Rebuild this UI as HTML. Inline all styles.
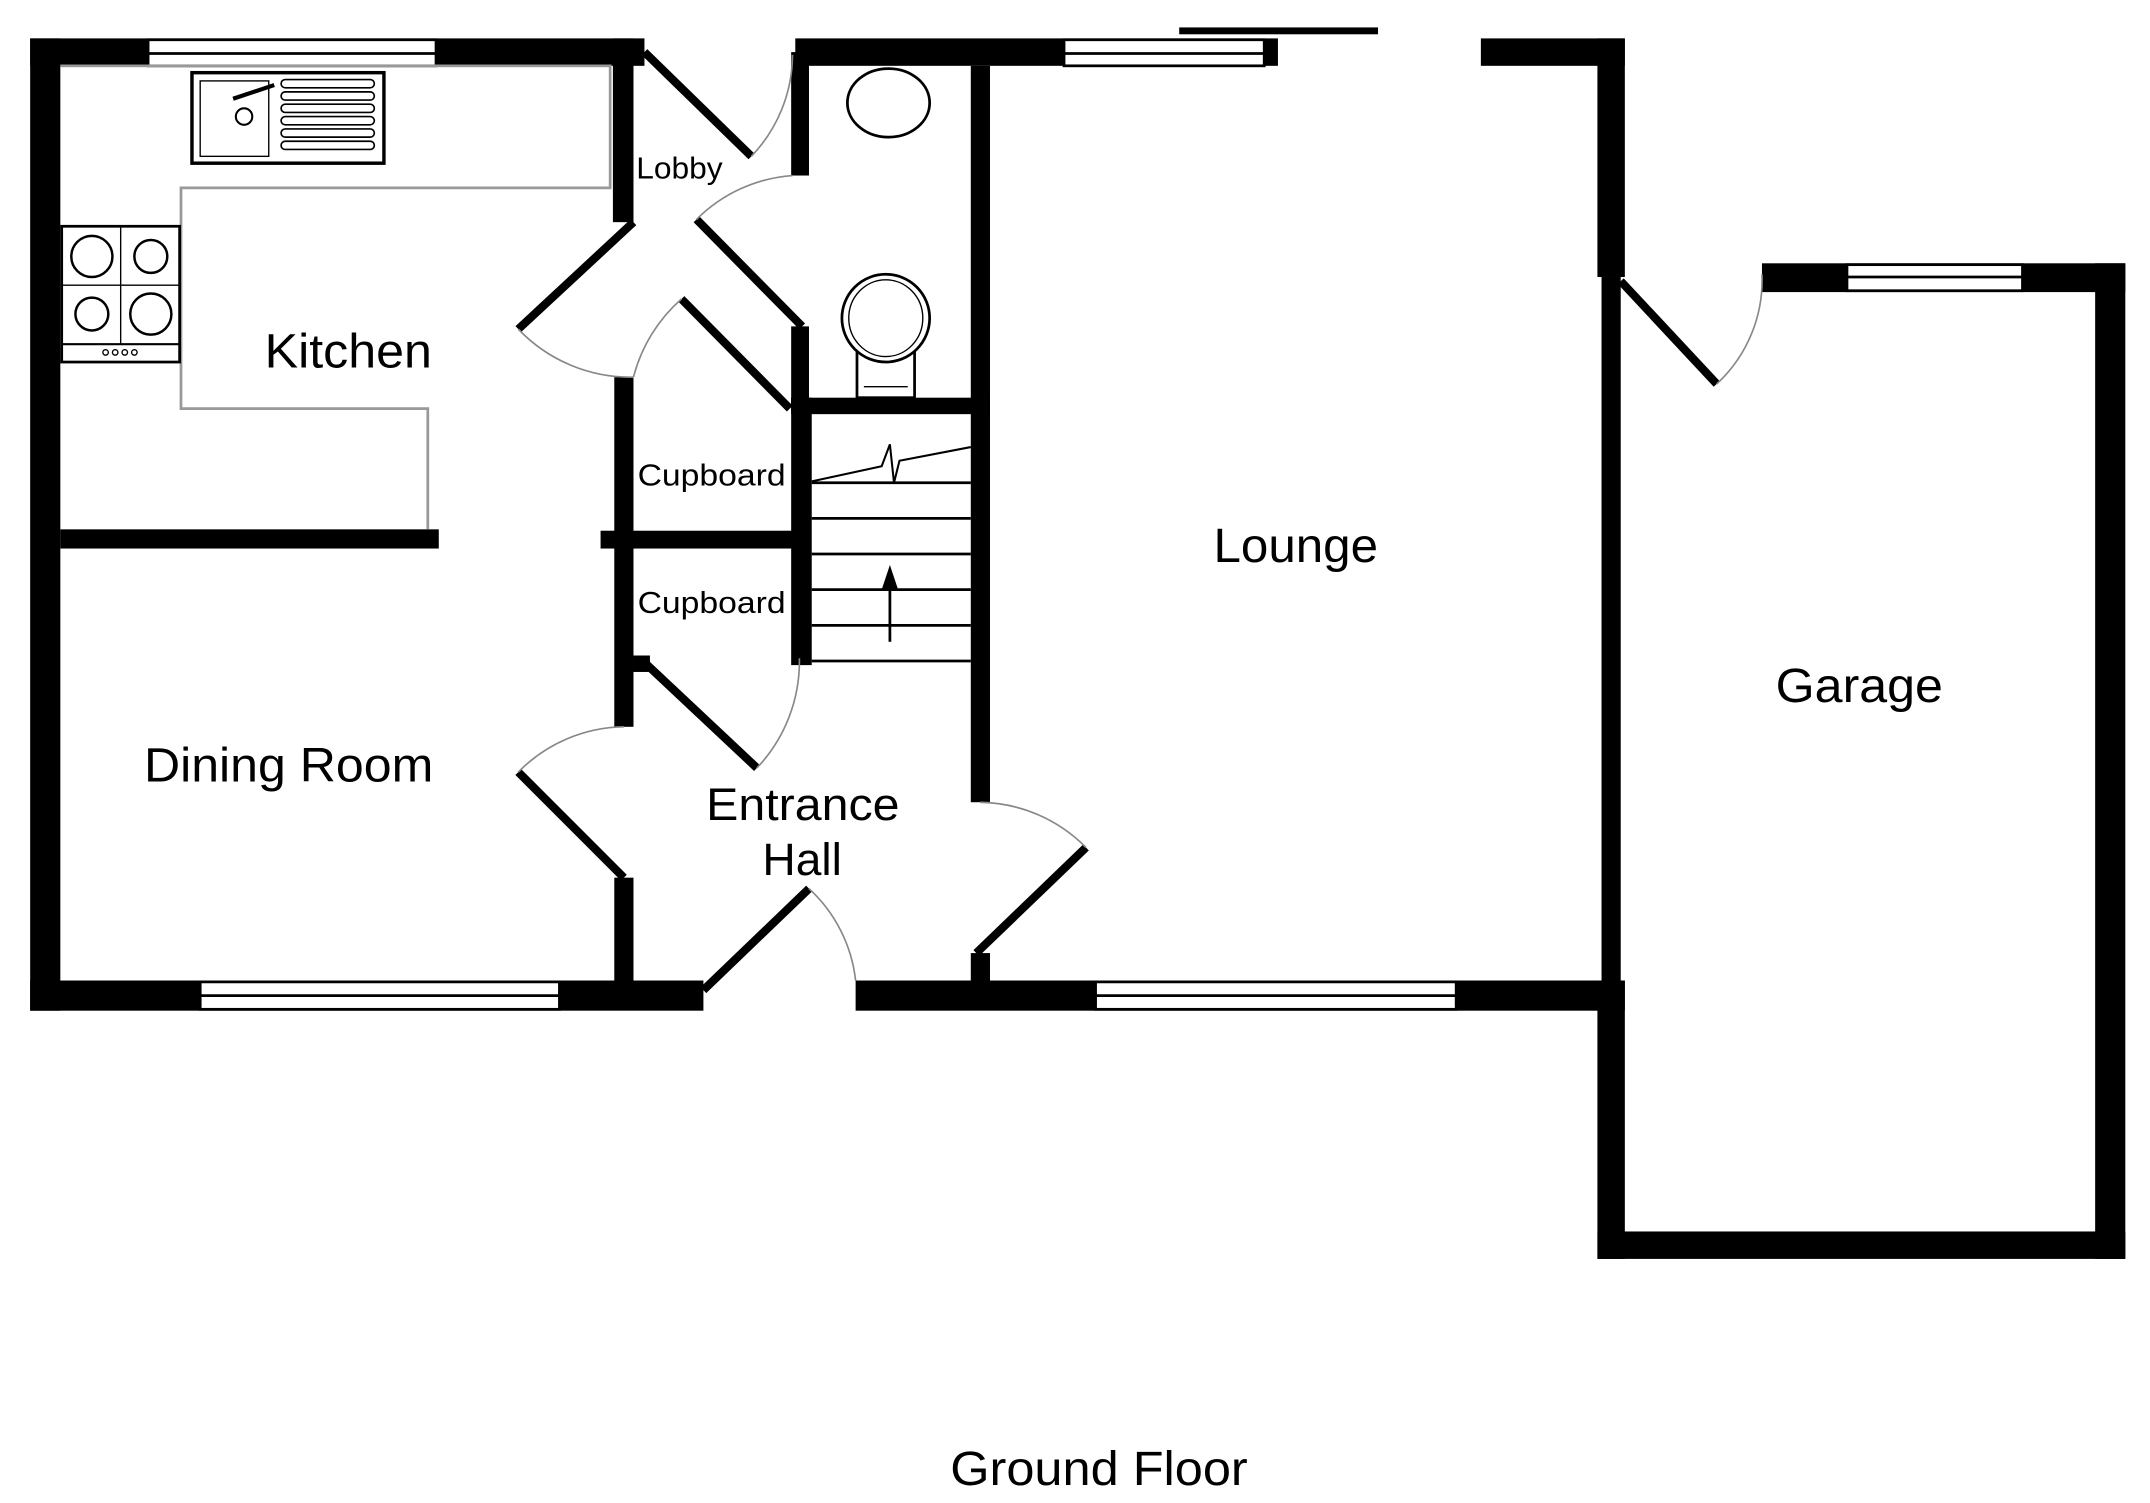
<!DOCTYPE html>
<html><head><meta charset="utf-8"><style>
html,body{margin:0;padding:0;background:#fff;}
svg{display:block;}
text{font-family:"Liberation Sans",sans-serif;fill:#000;}
</style></head><body>
<svg width="2150" height="1503" viewBox="0 0 1568 1096" preserveAspectRatio="none" xmlns="http://www.w3.org/2000/svg">
<rect width="1568" height="1096" fill="#fff"/>
<g fill="#000">
<rect x="22" y="28" width="448" height="20"/>
<rect x="22" y="28" width="22" height="709"/>
<rect x="22" y="715" width="491" height="22"/>
<rect x="44" y="386" width="276" height="14"/>
<rect x="447" y="28" width="15" height="134"/>
<rect x="448" y="275" width="14" height="255"/>
<rect x="448" y="640" width="14" height="77"/>
<rect x="438" y="387" width="152" height="13"/>
<rect x="462" y="478" width="12" height="12"/>
<rect x="580" y="28" width="352" height="20"/>
<rect x="577" y="38" width="13" height="90"/>
<rect x="577" y="238" width="13" height="62"/>
<rect x="577" y="290" width="15" height="195"/>
<rect x="708" y="48" width="14" height="537"/>
<rect x="577" y="290" width="145" height="12"/>
<rect x="860" y="20" width="145" height="5"/>
<rect x="1080" y="28" width="105" height="20"/>
<rect x="1165" y="28" width="20" height="174"/>
<rect x="1168" y="202" width="14" height="515"/>
<rect x="624" y="715" width="561" height="22"/>
<rect x="708" y="695" width="14" height="22"/>
<rect x="1285" y="192" width="265" height="21"/>
<rect x="1528" y="192" width="22" height="726"/>
<rect x="1165" y="898" width="385" height="20"/>
<rect x="1165" y="715" width="20" height="203"/>
</g>
<g fill="#fff" stroke="#000" stroke-width="2">
<rect x="108" y="29" width="210" height="19"/><line x1="108" y1="39" x2="318" y2="39"/>
<rect x="776" y="29" width="146" height="19"/><line x1="776" y1="39" x2="922" y2="39"/>
<rect x="146" y="716" width="262" height="20"/><line x1="146" y1="726" x2="408" y2="726"/>
<rect x="799" y="716" width="263" height="20"/><line x1="799" y1="726" x2="1062" y2="726"/>
<rect x="1347" y="193" width="128" height="19"/><line x1="1347" y1="202" x2="1475" y2="202"/>
</g>
<polyline points="44,48 445,48 445,137 132,137 132,298 312,298 312,386" fill="none" stroke="#999" stroke-width="2"/>
<rect x="140" y="53" width="140" height="66" fill="#fff" stroke="#000" stroke-width="2.5"/>
<rect x="146" y="59" width="50" height="55" fill="none" stroke="#000" stroke-width="1"/>
<circle cx="178" cy="85" r="6" fill="none" stroke="#000" stroke-width="1.5"/>
<line x1="170" y1="72" x2="200" y2="62" stroke="#000" stroke-width="3"/>
<g fill="none" stroke="#000" stroke-width="1.2">
<rect x="205" y="58" width="68" height="6" rx="3"/><rect x="205" y="67" width="68" height="6" rx="3"/><rect x="205" y="76" width="68" height="6" rx="3"/><rect x="205" y="85" width="68" height="6" rx="3"/><rect x="205" y="94" width="68" height="6" rx="3"/><rect x="205" y="103" width="68" height="6" rx="3"/>
</g>
<rect x="45" y="165" width="86" height="99" fill="#fff" stroke="#000" stroke-width="2"/>
<line x1="45" y1="251" x2="131" y2="251" stroke="#000" stroke-width="1.5"/>
<g fill="none" stroke="#000" stroke-width="1.8">
<circle cx="67" cy="187" r="15"/><circle cx="110" cy="187" r="12"/><circle cx="67" cy="229" r="12"/><circle cx="110" cy="229" r="15"/>
<line x1="45" y1="208" x2="131" y2="208" stroke-width="1"/><line x1="88" y1="165" x2="88" y2="251" stroke-width="1"/>
<circle cx="77" cy="257" r="2" stroke-width="1"/><circle cx="84" cy="257" r="2" stroke-width="1"/><circle cx="91" cy="257" r="2" stroke-width="1"/><circle cx="98" cy="257" r="2" stroke-width="1"/>
</g>
<g fill="#fff" stroke="#000" stroke-width="2">
<ellipse cx="648" cy="75" rx="30" ry="25"/>
<rect x="625" y="252" width="42" height="38"/>
<ellipse cx="646" cy="232" rx="32" ry="32"/>
<ellipse cx="646" cy="232" rx="27" ry="28" stroke-width="1"/>
</g>
<line x1="630" y1="282" x2="662" y2="282" stroke="#000" stroke-width="1"/>
<g stroke="#000" stroke-width="2">
<line x1="592" y1="352" x2="708" y2="352"/><line x1="592" y1="378" x2="708" y2="378"/><line x1="592" y1="404" x2="708" y2="404"/><line x1="592" y1="430" x2="708" y2="430"/><line x1="592" y1="456" x2="708" y2="456"/><line x1="592" y1="482" x2="708" y2="482"/>
<line x1="649" y1="468" x2="649" y2="425"/>
</g>
<polyline points="592,351 643,340 649,324 652,352 656,336 708,326" fill="none" stroke="#000" stroke-width="1.5"/>
<polygon points="649,412 643,430 655,430" fill="#000"/>
<g stroke="#000" stroke-width="6" stroke-linecap="butt">
<line x1="470" y1="38" x2="548" y2="114"/>
<line x1="462" y1="162" x2="378" y2="240"/>
<line x1="585" y1="238" x2="508" y2="160"/>
<line x1="576" y1="298" x2="497" y2="218"/>
<line x1="470" y1="483" x2="552" y2="560"/>
<line x1="455" y1="640" x2="378" y2="563"/>
<line x1="513" y1="722" x2="590" y2="648"/>
<line x1="712" y1="695" x2="792" y2="618"/>
<line x1="1182" y1="205" x2="1252" y2="280"/>
</g>
<g fill="none" stroke="#888" stroke-width="1.2">
<path d="M548,114 A108,108 0 0 0 578,40"/>
<path d="M378,240 A113,113 0 0 0 462,275"/>
<path d="M508,160 A110,110 0 0 1 578,128"/>
<path d="M497,218 A113,113 0 0 0 462,275"/>
<path d="M552,560 A113,113 0 0 0 583,480"/>
<path d="M378,563 A110,110 0 0 1 455,530"/>
<path d="M590,648 A107,107 0 0 1 624,715"/>
<path d="M792,618 A111,111 0 0 0 715,585"/>
<path d="M1252,280 A103,103 0 0 0 1285,200"/>
</g>
<g lengthAdjust="spacingAndGlyphs">
<text x="193" y="268" font-size="35" textLength="122" lengthAdjust="spacingAndGlyphs">Kitchen</text>
<text x="464" y="130" font-size="22" textLength="63" lengthAdjust="spacingAndGlyphs">Lobby</text>
<text x="465" y="354" font-size="22" textLength="108" lengthAdjust="spacingAndGlyphs">Cupboard</text>
<text x="465" y="447" font-size="22" textLength="108" lengthAdjust="spacingAndGlyphs">Cupboard</text>
<text x="885" y="410" font-size="35" textLength="120" lengthAdjust="spacingAndGlyphs">Lounge</text>
<text x="1295" y="512" font-size="35" textLength="122" lengthAdjust="spacingAndGlyphs">Garage</text>
<text x="105" y="570" font-size="35" textLength="211" lengthAdjust="spacingAndGlyphs">Dining Room</text>
<text x="515" y="598" font-size="33" textLength="141" lengthAdjust="spacingAndGlyphs">Entrance</text>
<text x="556" y="638" font-size="33" textLength="58" lengthAdjust="spacingAndGlyphs">Hall</text>
<text x="693" y="1083" font-size="35" textLength="217" lengthAdjust="spacingAndGlyphs">Ground Floor</text>
</g>
</svg>
</body></html>
